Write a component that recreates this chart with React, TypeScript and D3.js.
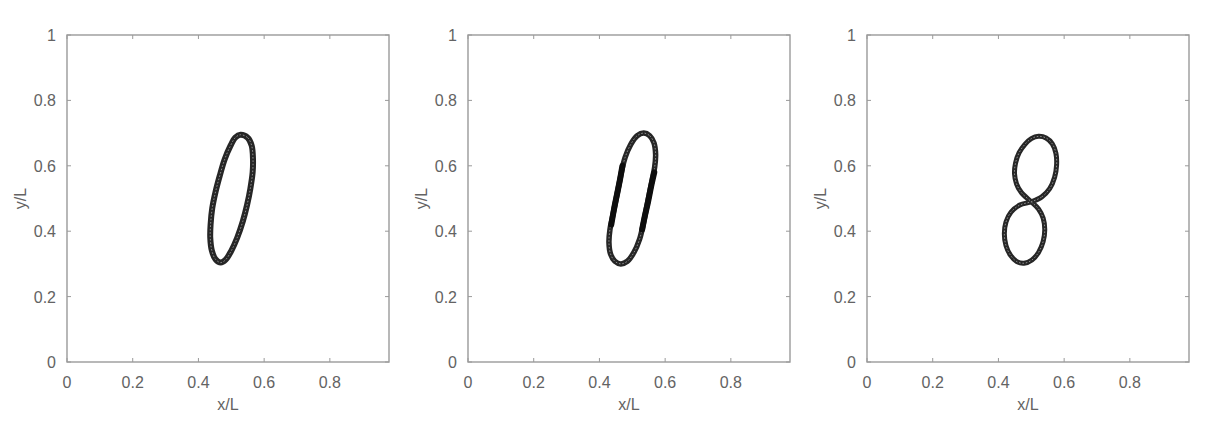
import React from "react";
import * as d3 from "d3";

// trajectory points (x/L, y/L), band centre line
const loopA: [number, number][] = [
  [0.528, 0.695], [0.550, 0.686], [0.562, 0.662], [0.566, 0.622], [0.565, 0.580],
  [0.558, 0.530], [0.548, 0.480], [0.535, 0.430], [0.518, 0.380], [0.500, 0.340],
  [0.483, 0.313], [0.468, 0.304], [0.452, 0.314], [0.441, 0.340], [0.436, 0.380],
  [0.437, 0.420], [0.442, 0.470], [0.452, 0.520], [0.465, 0.570], [0.480, 0.620],
  [0.497, 0.660], [0.512, 0.686],
];

const loopB: [number, number][] = [
  [0.535, 0.700], [0.553, 0.692], [0.566, 0.670], [0.571, 0.635], [0.568, 0.595],
  [0.560, 0.555], [0.550, 0.505], [0.540, 0.455], [0.532, 0.415], [0.522, 0.375],
  [0.505, 0.335], [0.485, 0.308], [0.465, 0.300], [0.447, 0.308], [0.434, 0.330],
  [0.429, 0.365], [0.432, 0.405], [0.440, 0.445], [0.450, 0.495], [0.460, 0.545],
  [0.468, 0.585], [0.478, 0.625], [0.495, 0.665], [0.515, 0.692],
];

// darker straight stretches of the second orbit (markers packed tight)
const denseB: [number, number][][] = [
  [[0.567, 0.580], [0.558, 0.540], [0.548, 0.490], [0.538, 0.445], [0.530, 0.405]],
  [[0.436, 0.420], [0.444, 0.465], [0.454, 0.515], [0.463, 0.560], [0.470, 0.600]],
];

const loopC: [number, number][] = [
  [0.500, 0.490], [0.532, 0.505], [0.556, 0.530], [0.571, 0.565], [0.577, 0.602],
  [0.575, 0.638], [0.564, 0.667], [0.545, 0.685], [0.522, 0.690], [0.500, 0.683],
  [0.480, 0.665], [0.463, 0.640], [0.452, 0.608], [0.449, 0.575], [0.455, 0.545],
  [0.470, 0.518], [0.500, 0.490], [0.522, 0.468], [0.536, 0.440], [0.541, 0.405],
  [0.536, 0.368], [0.522, 0.335], [0.502, 0.312], [0.478, 0.302], [0.456, 0.307],
  [0.437, 0.326], [0.423, 0.356], [0.418, 0.392], [0.423, 0.428], [0.438, 0.458],
  [0.465, 0.480],
];

const xTicks = [0, 0.2, 0.4, 0.6, 0.8];
const yTicks = [0, 0.2, 0.4, 0.6, 0.8, 1];
const panelLefts = [67, 468, 867];
const bandWidths = [6, 5.5, 5];

const top = 35, bottom = 362, boxW = 322;
const axisColor = "#9a9a9a";
const textColor = "#636363";
const font = "'Liberation Sans', Arial, sans-serif";

const Panel = ({ left, loop, band, dense }: { left: number; loop: [number, number][]; band: number; dense?: [number, number][][] }) => {
  const x = d3.scaleLinear().domain([0, 0.98]).range([left, left + boxW]);
  const y = d3.scaleLinear().domain([0, 1]).range([bottom, top]);
  const line = d3.line<[number, number]>().x(d => x(d[0])).y(d => y(d[1])).curve(d3.curveCatmullRomClosed);
  const open = d3.line<[number, number]>().x(d => x(d[0])).y(d => y(d[1])).curve(d3.curveCatmullRom);
  const d = line(loop) || "";
  const fmt = d3.format("~g");

  return (
    <g>
      <rect x={left} y={top} width={boxW} height={bottom - top} fill="none" stroke={axisColor} strokeWidth={1.4} />
      {xTicks.map(t => (
        <g key={"x" + t}>
          <line x1={x(t)} x2={x(t)} y1={bottom} y2={bottom - 4} stroke={axisColor} />
          <line x1={x(t)} x2={x(t)} y1={top} y2={top + 4} stroke={axisColor} />
          <text x={x(t)} y={bottom + 26} textAnchor="middle" fontSize={16} fill={textColor} fontFamily={font}>
            {fmt(t)}
          </text>
        </g>
      ))}
      {yTicks.map(t => (
        <g key={"y" + t}>
          <line x1={left} x2={left + 4} y1={y(t)} y2={y(t)} stroke={axisColor} />
          <line x1={left + boxW} x2={left + boxW - 4} y1={y(t)} y2={y(t)} stroke={axisColor} />
          <text x={left - 11} y={y(t) + 6} textAnchor="end" fontSize={16} fill={textColor} fontFamily={font}>
            {fmt(t)}
          </text>
        </g>
      ))}
      <text x={left + boxW / 2} y={bottom + 48} textAnchor="middle" fontSize={16} fill={textColor} fontFamily={font}>
        x/L
      </text>
      <text transform={`translate(${left - 41},${(top + bottom) / 2}) rotate(-90)`} textAnchor="middle"
        fontSize={16} fill={textColor} fontFamily={font}>
        y/L
      </text>

      <path d={d} fill="none" stroke="#262626" strokeWidth={band} strokeLinejoin="round" />
      <path d={d} fill="none" stroke="#9a9a9a" strokeWidth={0.9} strokeDasharray="1.6 1.8" />
      {dense && dense.map((seg, i) => (
        <path key={i} d={open(seg) || ""} fill="none" stroke="#0d0d0d" strokeWidth={band + 0.5} strokeLinecap="round" />
      ))}
    </g>
  );
};

export default function App() {
  return (
    <svg width={1214} height={436} style={{ position: "absolute", left: 0, top: 0, background: "#fff" }}>
      <Panel left={panelLefts[0]} loop={loopA} band={bandWidths[0]} />
      <Panel left={panelLefts[1]} loop={loopB} band={bandWidths[1]} dense={denseB} />
      <Panel left={panelLefts[2]} loop={loopC} band={bandWidths[2]} />
    </svg>
  );
}
